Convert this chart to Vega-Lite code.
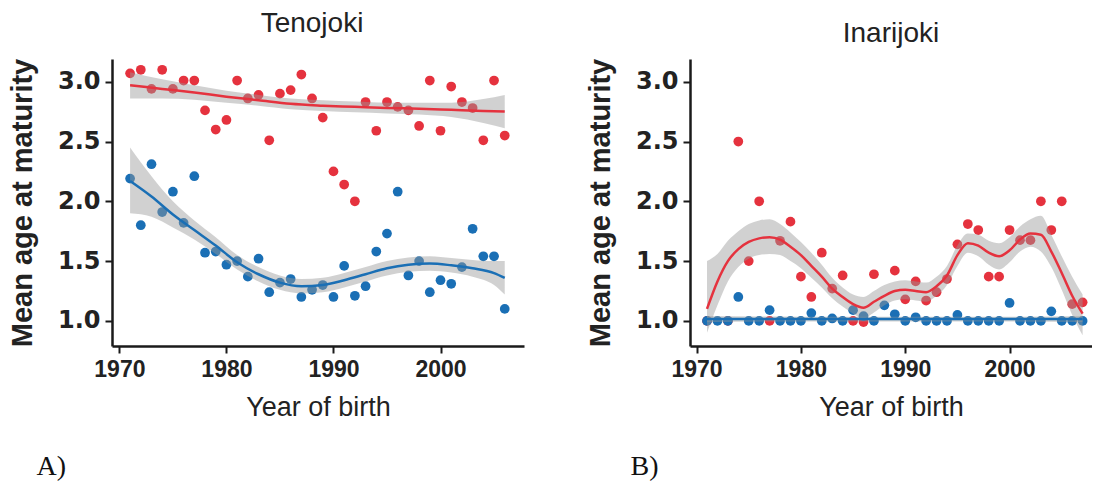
{
  "$schema": "https://vega.github.io/schema/vega-lite/v6.json",
  "padding": {"left": 8, "top": 10, "right": 0, "bottom": 0},
  "background": "white",
  "spacing": 62,
  "config": {
    "view": {"stroke": null},
    "font": "Liberation Sans",
    "axis": {
      "domainColor": "#1a1a1a", "domainWidth": 2.5, "tickColor": "#1a1a1a", "tickWidth": 2, "tickSize": 7,
      "grid": false, "labelColor": "#222222", "titleColor": "#222222",
      "labelFont": "Liberation Sans", "titleFont": "Liberation Sans"
    },
    "axisX": {"labelFontSize": 23, "labelFontWeight": "bold", "titleFontSize": 27, "titleFontWeight": "normal", "labelPadding": 5, "titlePadding": 13},
    "axisY": {"labelFont": "DejaVu Sans", "labelFontSize": 24, "labelFontWeight": "bold", "titleFontSize": 29, "titleFontWeight": "bold", "labelPadding": 5, "titlePadding": 20},
    "title": {"font": "Liberation Sans", "fontSize": 28, "fontWeight": "normal", "color": "#222222"}
  },
  "datasets": {
    "teno_pts": [
      {"year":1971,"age":3.07,"sex":"female"},{"year":1972,"age":3.10,"sex":"female"},{"year":1973,"age":2.94,"sex":"female"},
      {"year":1974,"age":3.10,"sex":"female"},{"year":1975,"age":2.94,"sex":"female"},{"year":1976,"age":3.01,"sex":"female"},
      {"year":1977,"age":3.01,"sex":"female"},{"year":1978,"age":2.76,"sex":"female"},{"year":1979,"age":2.60,"sex":"female"},
      {"year":1980,"age":2.68,"sex":"female"},{"year":1981,"age":3.01,"sex":"female"},{"year":1982,"age":2.86,"sex":"female"},
      {"year":1983,"age":2.89,"sex":"female"},{"year":1984,"age":2.51,"sex":"female"},{"year":1985,"age":2.90,"sex":"female"},
      {"year":1986,"age":2.93,"sex":"female"},{"year":1987,"age":3.06,"sex":"female"},{"year":1988,"age":2.86,"sex":"female"},
      {"year":1989,"age":2.70,"sex":"female"},{"year":1990,"age":2.25,"sex":"female"},{"year":1991,"age":2.14,"sex":"female"},
      {"year":1992,"age":2.00,"sex":"female"},{"year":1993,"age":2.83,"sex":"female"},{"year":1994,"age":2.59,"sex":"female"},
      {"year":1995,"age":2.83,"sex":"female"},{"year":1996,"age":2.79,"sex":"female"},{"year":1997,"age":2.76,"sex":"female"},
      {"year":1998,"age":2.63,"sex":"female"},{"year":1999,"age":3.01,"sex":"female"},{"year":2000,"age":2.59,"sex":"female"},
      {"year":2001,"age":2.96,"sex":"female"},{"year":2002,"age":2.83,"sex":"female"},{"year":2003,"age":2.78,"sex":"female"},
      {"year":2004,"age":2.51,"sex":"female"},{"year":2005,"age":3.01,"sex":"female"},{"year":2006,"age":2.55,"sex":"female"},
      {"year":1971,"age":2.19,"sex":"male"},{"year":1972,"age":1.80,"sex":"male"},{"year":1973,"age":2.31,"sex":"male"},
      {"year":1974,"age":1.91,"sex":"male"},{"year":1975,"age":2.08,"sex":"male"},{"year":1976,"age":1.82,"sex":"male"},
      {"year":1977,"age":2.21,"sex":"male"},{"year":1978,"age":1.57,"sex":"male"},{"year":1979,"age":1.58,"sex":"male"},
      {"year":1980,"age":1.47,"sex":"male"},{"year":1981,"age":1.50,"sex":"male"},{"year":1982,"age":1.37,"sex":"male"},
      {"year":1983,"age":1.52,"sex":"male"},{"year":1984,"age":1.24,"sex":"male"},{"year":1985,"age":1.32,"sex":"male"},
      {"year":1986,"age":1.35,"sex":"male"},{"year":1987,"age":1.20,"sex":"male"},{"year":1988,"age":1.26,"sex":"male"},
      {"year":1989,"age":1.30,"sex":"male"},{"year":1990,"age":1.20,"sex":"male"},{"year":1991,"age":1.46,"sex":"male"},
      {"year":1992,"age":1.21,"sex":"male"},{"year":1993,"age":1.29,"sex":"male"},{"year":1994,"age":1.58,"sex":"male"},
      {"year":1995,"age":1.73,"sex":"male"},{"year":1996,"age":2.08,"sex":"male"},{"year":1997,"age":1.38,"sex":"male"},
      {"year":1998,"age":1.50,"sex":"male"},{"year":1999,"age":1.24,"sex":"male"},{"year":2000,"age":1.34,"sex":"male"},
      {"year":2001,"age":1.31,"sex":"male"},{"year":2002,"age":1.45,"sex":"male"},{"year":2003,"age":1.77,"sex":"male"},
      {"year":2004,"age":1.54,"sex":"male"},{"year":2005,"age":1.54,"sex":"male"},{"year":2006,"age":1.10,"sex":"male"}
    ],
    "teno_fit": [
      {"year":1971,"fit":2.97,"lo":2.86,"hi":3.08,"sex":"female"},{"year":1974,"fit":2.94,"lo":2.86,"hi":3.02,"sex":"female"},
      {"year":1977,"fit":2.91,"lo":2.85,"hi":2.97,"sex":"female"},{"year":1980,"fit":2.875,"lo":2.825,"hi":2.925,"sex":"female"},
      {"year":1983,"fit":2.845,"lo":2.80,"hi":2.89,"sex":"female"},{"year":1986,"fit":2.815,"lo":2.77,"hi":2.86,"sex":"female"},
      {"year":1989,"fit":2.80,"lo":2.755,"hi":2.845,"sex":"female"},{"year":1992,"fit":2.79,"lo":2.745,"hi":2.835,"sex":"female"},
      {"year":1995,"fit":2.78,"lo":2.735,"hi":2.825,"sex":"female"},{"year":1998,"fit":2.775,"lo":2.725,"hi":2.825,"sex":"female"},
      {"year":2001,"fit":2.765,"lo":2.705,"hi":2.825,"sex":"female"},{"year":2004,"fit":2.755,"lo":2.655,"hi":2.855,"sex":"female"},
      {"year":2006,"fit":2.75,"lo":2.61,"hi":2.89,"sex":"female"},
      {"year":1971,"fit":2.17,"lo":1.90,"hi":2.45,"sex":"male"},{"year":1973,"fit":2.04,"lo":1.87,"hi":2.21,"sex":"male"},
      {"year":1975,"fit":1.89,"lo":1.78,"hi":2.00,"sex":"male"},{"year":1977,"fit":1.76,"lo":1.68,"hi":1.84,"sex":"male"},
      {"year":1979,"fit":1.63,"lo":1.56,"hi":1.70,"sex":"male"},{"year":1981,"fit":1.49,"lo":1.43,"hi":1.55,"sex":"male"},
      {"year":1983,"fit":1.39,"lo":1.33,"hi":1.45,"sex":"male"},{"year":1985,"fit":1.32,"lo":1.26,"hi":1.38,"sex":"male"},
      {"year":1987,"fit":1.29,"lo":1.23,"hi":1.35,"sex":"male"},{"year":1989,"fit":1.30,"lo":1.24,"hi":1.36,"sex":"male"},
      {"year":1991,"fit":1.34,"lo":1.28,"hi":1.40,"sex":"male"},{"year":1993,"fit":1.39,"lo":1.33,"hi":1.45,"sex":"male"},
      {"year":1995,"fit":1.44,"lo":1.38,"hi":1.50,"sex":"male"},{"year":1997,"fit":1.47,"lo":1.41,"hi":1.53,"sex":"male"},
      {"year":1999,"fit":1.48,"lo":1.42,"hi":1.54,"sex":"male"},{"year":2001,"fit":1.465,"lo":1.405,"hi":1.525,"sex":"male"},
      {"year":2003,"fit":1.44,"lo":1.37,"hi":1.51,"sex":"male"},{"year":2005,"fit":1.40,"lo":1.30,"hi":1.50,"sex":"male"},
      {"year":2006,"fit":1.36,"lo":1.22,"hi":1.50,"sex":"male"}
    ],
    "inari_pts": [
      {"year":1971,"age":1.0,"sex":"female"},{"year":1973,"age":1.0,"sex":"female"},{"year":1974,"age":2.5,"sex":"female"},
      {"year":1975,"age":1.5,"sex":"female"},{"year":1976,"age":2.0,"sex":"female"},{"year":1977,"age":1.0,"sex":"female"},
      {"year":1978,"age":1.67,"sex":"female"},{"year":1979,"age":1.83,"sex":"female"},{"year":1980,"age":1.37,"sex":"female"},
      {"year":1981,"age":1.2,"sex":"female"},{"year":1982,"age":1.57,"sex":"female"},{"year":1983,"age":1.27,"sex":"female"},
      {"year":1984,"age":1.38,"sex":"female"},{"year":1985,"age":1.0,"sex":"female"},{"year":1986,"age":0.99,"sex":"female"},
      {"year":1987,"age":1.39,"sex":"female"},{"year":1989,"age":1.42,"sex":"female"},{"year":1990,"age":1.18,"sex":"female"},
      {"year":1991,"age":1.33,"sex":"female"},{"year":1992,"age":1.17,"sex":"female"},{"year":1993,"age":1.24,"sex":"female"},
      {"year":1994,"age":1.35,"sex":"female"},{"year":1995,"age":1.64,"sex":"female"},{"year":1996,"age":1.81,"sex":"female"},
      {"year":1997,"age":1.76,"sex":"female"},{"year":1998,"age":1.37,"sex":"female"},{"year":1999,"age":1.37,"sex":"female"},
      {"year":2000,"age":1.76,"sex":"female"},{"year":2001,"age":1.675,"sex":"female"},{"year":2002,"age":1.675,"sex":"female"},
      {"year":2003,"age":2.0,"sex":"female"},{"year":2004,"age":1.76,"sex":"female"},{"year":2005,"age":2.0,"sex":"female"},
      {"year":2006,"age":1.14,"sex":"female"},{"year":2007,"age":1.155,"sex":"female"},
      {"year":1971,"age":1.0,"sex":"male"},{"year":1972,"age":1.0,"sex":"male"},{"year":1973,"age":1.0,"sex":"male"},
      {"year":1974,"age":1.2,"sex":"male"},{"year":1975,"age":1.0,"sex":"male"},{"year":1976,"age":1.0,"sex":"male"},
      {"year":1977,"age":1.09,"sex":"male"},{"year":1978,"age":1.0,"sex":"male"},{"year":1979,"age":1.0,"sex":"male"},
      {"year":1980,"age":1.0,"sex":"male"},{"year":1981,"age":1.065,"sex":"male"},{"year":1982,"age":1.0,"sex":"male"},
      {"year":1983,"age":1.02,"sex":"male"},{"year":1984,"age":1.0,"sex":"male"},{"year":1985,"age":1.09,"sex":"male"},
      {"year":1986,"age":1.04,"sex":"male"},{"year":1987,"age":1.0,"sex":"male"},{"year":1988,"age":1.13,"sex":"male"},
      {"year":1989,"age":1.055,"sex":"male"},{"year":1990,"age":1.0,"sex":"male"},{"year":1991,"age":1.03,"sex":"male"},
      {"year":1992,"age":1.0,"sex":"male"},{"year":1993,"age":1.0,"sex":"male"},{"year":1994,"age":1.0,"sex":"male"},
      {"year":1995,"age":1.05,"sex":"male"},{"year":1996,"age":1.0,"sex":"male"},{"year":1997,"age":1.0,"sex":"male"},
      {"year":1998,"age":1.0,"sex":"male"},{"year":1999,"age":1.0,"sex":"male"},{"year":2000,"age":1.15,"sex":"male"},
      {"year":2001,"age":1.0,"sex":"male"},{"year":2002,"age":1.0,"sex":"male"},{"year":2003,"age":1.0,"sex":"male"},
      {"year":2004,"age":1.08,"sex":"male"},{"year":2005,"age":1.0,"sex":"male"},{"year":2006,"age":1.0,"sex":"male"},
      {"year":2007,"age":1.0,"sex":"male"}
    ],
    "inari_fit": [
      {"year":1971,"fit":1.10,"lo":0.90,"hi":1.50,"sex":"female"},{"year":1972,"fit":1.33,"lo":1.13,"hi":1.56,"sex":"female"},
      {"year":1973,"fit":1.50,"lo":1.33,"hi":1.67,"sex":"female"},{"year":1974,"fit":1.60,"lo":1.45,"hi":1.75,"sex":"female"},
      {"year":1975,"fit":1.66,"lo":1.52,"hi":1.81,"sex":"female"},{"year":1976,"fit":1.69,"lo":1.55,"hi":1.84,"sex":"female"},
      {"year":1977,"fit":1.70,"lo":1.56,"hi":1.85,"sex":"female"},{"year":1978,"fit":1.68,"lo":1.55,"hi":1.81,"sex":"female"},
      {"year":1979,"fit":1.62,"lo":1.50,"hi":1.74,"sex":"female"},{"year":1980,"fit":1.55,"lo":1.44,"hi":1.66,"sex":"female"},
      {"year":1981,"fit":1.46,"lo":1.36,"hi":1.57,"sex":"female"},{"year":1982,"fit":1.37,"lo":1.28,"hi":1.47,"sex":"female"},
      {"year":1983,"fit":1.27,"lo":1.19,"hi":1.36,"sex":"female"},{"year":1984,"fit":1.20,"lo":1.12,"hi":1.28,"sex":"female"},
      {"year":1985,"fit":1.14,"lo":1.06,"hi":1.22,"sex":"female"},{"year":1986,"fit":1.11,"lo":1.02,"hi":1.20,"sex":"female"},
      {"year":1987,"fit":1.16,"lo":1.07,"hi":1.25,"sex":"female"},{"year":1988,"fit":1.21,"lo":1.13,"hi":1.30,"sex":"female"},
      {"year":1989,"fit":1.25,"lo":1.17,"hi":1.33,"sex":"female"},{"year":1990,"fit":1.26,"lo":1.18,"hi":1.34,"sex":"female"},
      {"year":1991,"fit":1.25,"lo":1.17,"hi":1.33,"sex":"female"},{"year":1992,"fit":1.24,"lo":1.16,"hi":1.32,"sex":"female"},
      {"year":1993,"fit":1.29,"lo":1.21,"hi":1.37,"sex":"female"},{"year":1994,"fit":1.38,"lo":1.30,"hi":1.46,"sex":"female"},
      {"year":1995,"fit":1.55,"lo":1.46,"hi":1.63,"sex":"female"},{"year":1996,"fit":1.65,"lo":1.57,"hi":1.73,"sex":"female"},
      {"year":1997,"fit":1.63,"lo":1.54,"hi":1.72,"sex":"female"},{"year":1998,"fit":1.57,"lo":1.47,"hi":1.67,"sex":"female"},
      {"year":1999,"fit":1.54,"lo":1.43,"hi":1.65,"sex":"female"},{"year":2000,"fit":1.59,"lo":1.49,"hi":1.70,"sex":"female"},
      {"year":2001,"fit":1.68,"lo":1.58,"hi":1.79,"sex":"female"},{"year":2002,"fit":1.73,"lo":1.62,"hi":1.85,"sex":"female"},
      {"year":2003,"fit":1.72,"lo":1.58,"hi":1.88,"sex":"female"},{"year":2004,"fit":1.58,"lo":1.45,"hi":1.72,"sex":"female"},
      {"year":2005,"fit":1.40,"lo":1.26,"hi":1.54,"sex":"female"},{"year":2006,"fit":1.21,"lo":1.05,"hi":1.37,"sex":"female"},
      {"year":2007,"fit":1.06,"lo":0.88,"hi":1.22,"sex":"female"},
      {"year":1971,"fit":1.015,"lo":0.99,"hi":1.04,"sex":"male"},{"year":1980,"fit":1.015,"lo":0.995,"hi":1.035,"sex":"male"},
      {"year":1990,"fit":1.015,"lo":0.995,"hi":1.035,"sex":"male"},{"year":2000,"fit":1.015,"lo":0.995,"hi":1.035,"sex":"male"},
      {"year":2007,"fit":1.015,"lo":0.99,"hi":1.04,"sex":"male"}
    ]
  },
  "hconcat": [
    {
      "title": {"text": "A)", "orient": "bottom", "anchor": "start", "frame": "bounds", "dx": 28, "offset": 33, "font": "Liberation Serif", "fontSize": 28, "fontWeight": "normal", "color": "#111111"},
      "vconcat": [
        {
          "width": 412, "height": 287,
          "title": {"text": "Tenojoki", "anchor": "middle", "frame": "group", "offset": 20, "dx": -6},
          "encoding": {
            "x": {"field": "year", "type": "quantitative", "title": "Year of birth",
                  "scale": {"domain": [1969.31, 2007.8], "nice": false, "zero": false},
                  "axis": {"values": [1970, 1980, 1990, 2000], "format": "d"}}
          },
          "layer": [
            {
              "data": {"name": "teno_pts"},
              "mark": {"type": "point", "filled": true, "size": 95, "opacity": 1},
              "encoding": {
                "y": {"field": "age", "type": "quantitative", "title": "Mean age at maturity",
                      "scale": {"domain": [0.79, 3.19], "nice": false, "zero": false},
                      "axis": {"values": [1, 1.5, 2, 2.5, 3], "format": ".1f"}},
                "color": {"field": "sex", "type": "nominal", "scale": {"domain": ["female", "male"], "range": ["#e5323e", "#1a6fb5"]}, "legend": null}
              }
            },
            {
              "data": {"name": "teno_fit"},
              "mark": {"type": "area", "interpolate": "monotone", "color": "#9a9a9a", "opacity": 0.45},
              "encoding": {
                "y": {"field": "lo", "type": "quantitative", "title": "Mean age at maturity"},
                "y2": {"field": "hi"},
                "detail": {"field": "sex", "type": "nominal"}
              }
            },
            {
              "data": {"name": "teno_fit"},
              "mark": {"type": "line", "interpolate": "monotone", "strokeWidth": 2.5},
              "encoding": {
                "y": {"field": "fit", "type": "quantitative", "title": "Mean age at maturity"},
                "color": {"field": "sex", "type": "nominal", "legend": null}
              }
            }
          ]
        }
      ]
    },
    {
      "title": {"text": "B)", "orient": "bottom", "anchor": "start", "frame": "bounds", "dx": 44, "offset": 33, "font": "Liberation Serif", "fontSize": 28, "fontWeight": "normal", "color": "#111111"},
      "vconcat": [
        {
          "width": 402, "height": 287,
          "title": {"text": "Inarijoki", "anchor": "middle", "frame": "group", "offset": 10},
          "encoding": {
            "x": {"field": "year", "type": "quantitative", "title": "Year of birth",
                  "scale": {"domain": [1969.37, 2007.9], "nice": false, "zero": false},
                  "axis": {"values": [1970, 1980, 1990, 2000], "format": "d"}}
          },
          "layer": [
            {
              "data": {"name": "inari_pts"},
              "mark": {"type": "point", "filled": true, "size": 95, "opacity": 1},
              "encoding": {
                "y": {"field": "age", "type": "quantitative", "title": "Mean age at maturity",
                      "scale": {"domain": [0.79, 3.19], "nice": false, "zero": false},
                      "axis": {"values": [1, 1.5, 2, 2.5, 3], "format": ".1f"}},
                "color": {"field": "sex", "type": "nominal", "scale": {"domain": ["female", "male"], "range": ["#e5323e", "#1a6fb5"]}, "legend": null}
              }
            },
            {
              "data": {"name": "inari_fit"},
              "mark": {"type": "area", "interpolate": "monotone", "color": "#9a9a9a", "opacity": 0.45},
              "encoding": {
                "y": {"field": "lo", "type": "quantitative", "title": "Mean age at maturity"},
                "y2": {"field": "hi"},
                "detail": {"field": "sex", "type": "nominal"}
              }
            },
            {
              "data": {"name": "inari_fit"},
              "mark": {"type": "line", "interpolate": "monotone", "strokeWidth": 2.5},
              "encoding": {
                "y": {"field": "fit", "type": "quantitative", "title": "Mean age at maturity"},
                "color": {"field": "sex", "type": "nominal", "legend": null}
              }
            }
          ]
        }
      ]
    }
  ]
}
